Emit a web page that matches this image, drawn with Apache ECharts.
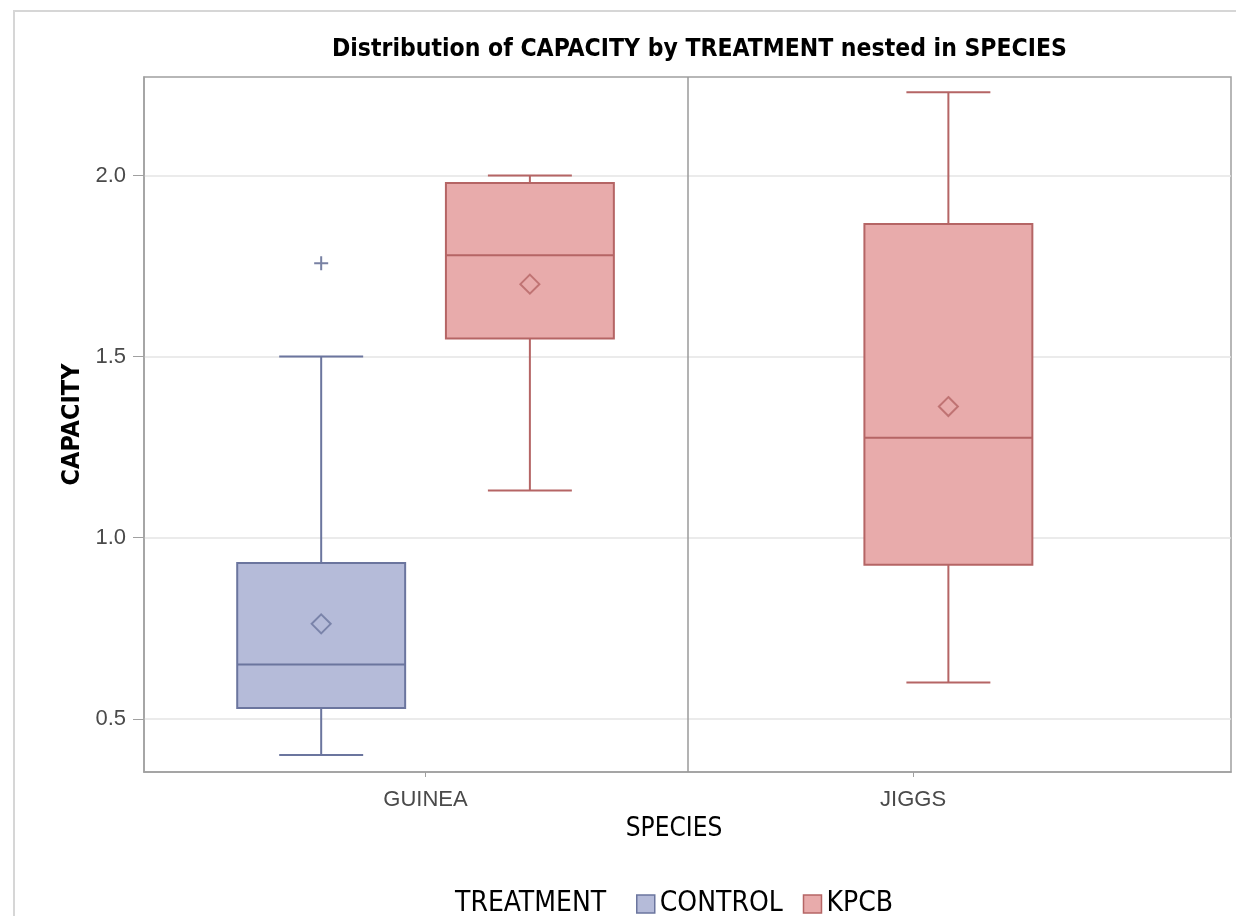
<!DOCTYPE html>
<html>
<head>
<meta charset="utf-8">
<script src="https://cdn.jsdelivr.net/npm/echarts@6/dist/echarts.min.js"></script>
<style>
  html, body { margin: 0; padding: 0; background: #fff; }
  #chart { width: 1236px; height: 916px; }
</style>
</head>
<body>
<div id="chart"></div>
<script>
// ---------- data ----------
const species = ['GUINEA', 'JIGGS'];
const treatments = ['CONTROL', 'KPCB'];
// one entry per box
const boxSpecies   = ['GUINEA', 'GUINEA', 'JIGGS'];
const boxTreatment = ['CONTROL', 'KPCB', 'KPCB'];
const whiskerLow   = [0.40, 1.13, 0.60];
const quart1       = [0.53, 1.55, 0.925];
const medians      = [0.65, 1.78, 1.276];
const quart3       = [0.93, 1.979, 1.866];
const whiskerHigh  = [1.50, 2.00, 2.23];
const means        = [0.762, 1.70, 1.362];
// outliers
const outSpecies   = ['GUINEA'];
const outTreatment = ['CONTROL'];
const outValues    = [1.758];
const yTicks       = [0.5, 1.0, 1.5, 2.0];

// ---------- layout (positions on a 0..2 species scale) ----------
const speciesLabelX = [0.518, 1.415];
const boxCenterX = { 'GUINEA|CONTROL': 0.326, 'GUINEA|KPCB': 0.710, 'JIGGS|KPCB': 1.480 };
const BOX_W = 0.309;
const colors = {
  CONTROL: { fill: '#b5bbd9', stroke: '#6b759e', dark: '#56618c' },
  KPCB:    { fill: '#e8abab', stroke: '#b56565', dark: '#a05050' }
};
const NARROW = '"Liberation Sans Narrow", "DejaVu Sans Condensed", sans-serif';

function boxData(t) {
  const out = [];
  boxSpecies.forEach((s, i) => {
    if (boxTreatment[i] !== t) return;
    out.push([boxCenterX[s + '|' + t], whiskerLow[i], quart1[i], medians[i], quart3[i], whiskerHigh[i]]);
  });
  return out;
}
function meanData(t) {
  const out = [];
  boxSpecies.forEach((s, i) => {
    if (boxTreatment[i] === t) out.push([boxCenterX[s + '|' + t], means[i]]);
  });
  return out;
}
function outlierData(t) {
  const out = [];
  outSpecies.forEach((s, i) => {
    if (outTreatment[i] === t) out.push([boxCenterX[s + '|' + t], outValues[i]]);
  });
  return out;
}
function makeRender(t) {
  const c = colors[t];
  return function (params, api) {
    const x = api.value(0), lo = api.value(1), a = api.value(2), m = api.value(3), b = api.value(4), hi = api.value(5);
    const half = BOX_W / 2, cap = BOX_W / 4;
    const P = (xx, yy) => api.coord([xx, yy]);
    const ls = { stroke: c.stroke, lineWidth: 2, fill: null };
    const tl = P(x - half, b), br = P(x + half, a);
    const ml = P(x - half, m), mr = P(x + half, m);
    const line = (p1, p2) => ({ type: 'line', shape: { x1: p1[0], y1: p1[1], x2: p2[0], y2: p2[1] }, style: ls });
    return {
      type: 'group',
      children: [
        line(P(x, b), P(x, hi)),
        line(P(x - cap, hi), P(x + cap, hi)),
        line(P(x, a), P(x, lo)),
        line(P(x - cap, lo), P(x + cap, lo)),
        { type: 'rect', shape: { x: tl[0], y: tl[1], width: br[0] - tl[0], height: br[1] - tl[1] },
          style: { fill: c.fill, stroke: c.stroke, lineWidth: 2 } },
        line(ml, mr)
      ]
    };
  };
}

const series = [];
treatments.forEach(t => {
  series.push({
    name: t, type: 'custom', renderItem: makeRender(t),
    data: boxData(t), encode: { x: 0, y: [1, 2, 3, 4, 5] }, z: 2
  });
  series.push({
    name: t, type: 'scatter', data: meanData(t), symbol: 'diamond', symbolSize: 19, z: 3,
    itemStyle: { color: 'rgba(0,0,0,0)', borderColor: colors[t].stroke, borderWidth: 2 }
  });
  series.push({
    name: t, type: 'scatter', data: outlierData(t), z: 3,
    symbol: 'path://M6,0h2v6h6v2h-6v6h-2v-6h-6v-2h6z', symbolSize: 14,
    itemStyle: { color: colors[t].dark }
  });
});
// divider between species panels
series.push({
  type: 'scatter', data: [], silent: true,
  markLine: { silent: true, symbol: 'none', label: { show: false },
    lineStyle: { color: '#9a9a9a', width: 1.5, type: 'solid' }, data: [{ xAxis: 1 }] }
});

const chart = echarts.init(document.getElementById('chart'), null, { renderer: 'canvas' });
chart.setOption({
  animation: false,
  backgroundColor: '#fff',
  graphic: [{ type: 'rect', shape: { x: 14, y: 11, width: 1400, height: 1000 },
    style: { fill: null, stroke: '#d6d6d6', lineWidth: 2 }, silent: true }],
  title: [
    { text: 'Distribution of CAPACITY by TREATMENT nested in SPECIES', left: 332, top: 37, padding: 0,
      textStyle: { fontFamily: NARROW, fontWeight: 'bold', fontSize: 24.5, color: '#000' } },
    { text: 'TREATMENT', left: 455, top: 890, padding: 0,
      textStyle: { fontFamily: NARROW, fontWeight: 'normal', fontSize: 28, color: '#000' } }
  ],
  legend: {
    left: 636, top: 890, padding: 0, itemGap: 20, itemWidth: 18, itemHeight: 18,
    textStyle: { fontFamily: NARROW, fontSize: 28, color: '#000', padding: [0, 0, 0, 0] },
    data: treatments.map(t => ({ name: t, icon: 'rect',
      itemStyle: { color: colors[t].fill, borderColor: colors[t].stroke, borderWidth: 1.5 } }))
  },
  grid: { left: 144, right: 5, top: 77, bottom: 144, show: true, borderColor: '#a0a0a0', borderWidth: 1.5, containLabel: false },
  xAxis: {
    type: 'value', min: 0, max: 2,
    name: 'SPECIES', nameLocation: 'middle', nameGap: 40,
    nameTextStyle: { fontFamily: NARROW, fontSize: 26, color: '#000', padding: [0, 27, 0, 0] },
    axisLine: { show: true, lineStyle: { color: '#a0a0a0', width: 1.5 } },
    axisTick: { show: true, customValues: speciesLabelX, length: 5, lineStyle: { color: '#a0a0a0' } },
    axisLabel: { show: true, customValues: speciesLabelX, margin: 17,
      formatter: v => { const i = speciesLabelX.findIndex(s => Math.abs(s - v) < 1e-6); return i >= 0 ? species[i] : ''; },
      fontFamily: 'Liberation Sans, Arial, sans-serif', fontSize: 22, color: '#4a4a4a' },
    splitLine: { show: false }
  },
  yAxis: {
    type: 'value', min: 0.353, max: 2.272, splitNumber: 4,
    name: 'CAPACITY', nameLocation: 'middle', nameGap: 58,
    nameTextStyle: { fontFamily: NARROW, fontWeight: 'bold', fontSize: 25, color: '#000' },
    axisLine: { show: true, lineStyle: { color: '#a0a0a0', width: 1.5 } },
    axisTick: { show: true, customValues: yTicks, length: 11, lineStyle: { color: '#a0a0a0' } },
    axisLabel: { customValues: yTicks, margin: 18, formatter: v => v.toFixed(1),
      fontFamily: 'Liberation Sans, Arial, sans-serif', fontSize: 22, color: '#4a4a4a' },
    splitLine: { show: true, lineStyle: { color: '#e4e4e4', width: 1.5 } }
  },
  series: series
});
</script>
</body>
</html>
